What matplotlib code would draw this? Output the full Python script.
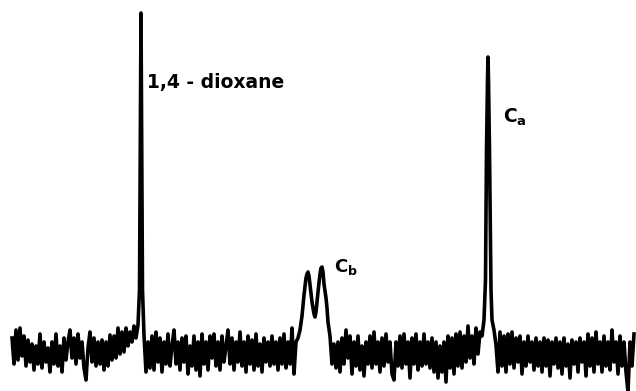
import numpy as np
import matplotlib
matplotlib.use("Agg")
import matplotlib.pyplot as plt

plt.rcParams['mathtext.fontset'] = 'dejavusans'

# chart recorder trace, position along the sweep vs. signal (baseline = 0)
# noisy baseline pieces are sampled every 2 units from their start position
base_a_start = 12
base_a = [12, -14, 20, -10, 22, -6, 14, -16, 10, -12, 6, -20, 4, -14, 16, -18, 8, -12, 2, -22,
          8, -14, 16, -16, 4, -22, 12, -10, 8, 20, -8, 12, -14, 16, -8, 8, -18, -30, 2, 18,
          -12, 12, -16, 8, -14, 10, -20, 8, -16, 15, -10, 14, -8, 22, -4, 18, -2, 22, 4, 18,
          8, 24]

dioxane_x = [136, 138, 139.5, 140.5, 141, 141.5, 142.5, 144, 146]
dioxane_y = [12, 25, 60, 250, 337, 250, 60, 15, -22]

base_b_start = 148
base_b = [8, -18, 14, -20, 18, -12, 12, -22, 8, -14, 16, -16, 4, 20, -14, 8, -20, 12, -12, 14,
          -24, 4, -16, 14, -20, 8, -26, 16, -14, 8, -20, 14, -8, 16, -16, 8, -20, 14, -12, 4,
          20, -14, 12, -20, 8, -12, 18, -16, 8, -22, 14, -14, 10, -20, 16, -16, 6, -22, 12, -12,
          8, -16, 14, -14, 8, -20, 12, -14, 16, -18, 8, -14, 22, -24, 8]

cb_x = [298, 300, 302, 304, 306, 307, 308, 309, 310, 312, 314, 315, 316, 318, 320, 321,
        322, 323, 324, 326, 327, 328, 330, 332, 334]
cb_y = [12, 20, 34, 55, 72, 76, 78, 74, 65, 48, 36, 33, 38, 58, 76, 82, 83, 78, 66, 52,
        42, 28, 14, -14, 6]

base_c_start = 336
base_c = [-18, 8, -22, 12, -14, 20, -8, 14, -24, 8, -16, 14, -20, 4, -26, 8, -14, 14, -18, 18,
          -14, 8, -22, 12, -16, 16, -12, 8, -24, -30, 8, -16, 14, -18, 16, -14, 8, -28, 12, -14,
          16, -20, 8, -16, 16, -14, 8, -18, 12, -22, 8, -28, 4, -22, 8, -32, 14, -18, 12, -24,
          16, -16, 18, -18, 14, -12, 24, -8, 14, -14, 22, -4, 18, 14]

ca_x = [484, 485.5, 486.5, 487.5, 488, 488.5, 489.5, 491, 492, 494, 496, 498]
ca_y = [30, 70, 200, 270, 293, 270, 200, 60, 30, 20, 5, -22]

base_d_start = 500
base_d = [18, -16, 14, -22, 16, -14, 18, -18, 12, -12, 14, -24, 8, -16, 14, -12, 8, -20, 12, -16,
          8, -22, 12, -16, 10, -26, 8, -14, 12, -18, 8, -24, 12, -16, 6, -28, 10, -14, 8, -22,
          12, -12, 8, -26, 16, -16, 12, -22, 18, -14, 8, -22, 14, -16, 8, -20, 20, -12, 8, -24,
          14, -16, 8, -22, -42, 8, -16, 16]


def seg(start, vals):
    return list(np.arange(start, start + 2 * len(vals), 2)), list(vals)


xa, ya = seg(base_a_start, base_a)
xb, yb = seg(base_b_start, base_b)
xc, yc = seg(base_c_start, base_c)
xd, yd = seg(base_d_start, base_d)

x = xa + dioxane_x + xb + cb_x + xc + ca_x + xd
y = ya + dioxane_y + yb + cb_y + yc + ca_y + yd

fig = plt.figure(figsize=(6.36, 3.91), dpi=100)
ax = fig.add_axes([0, 0, 1, 1])
ax.plot(x, y, color='black', lw=2.6, solid_joinstyle='round')

ax.text(147, 262, '1,4 - dioxane', fontsize=13.5, fontweight='bold', ha='left', va='baseline')
ax.text(334, 78, r'$\mathbf{C_b}$', fontsize=13, ha='left', va='baseline')
ax.text(503, 227, r'$\mathbf{C_a}$', fontsize=13.5, ha='left', va='baseline')

ax.set_xlim(0, 636)
ax.set_ylim(-41, 350)
ax.axis('off')

fig.savefig('out.png', dpi=100, facecolor='white')
